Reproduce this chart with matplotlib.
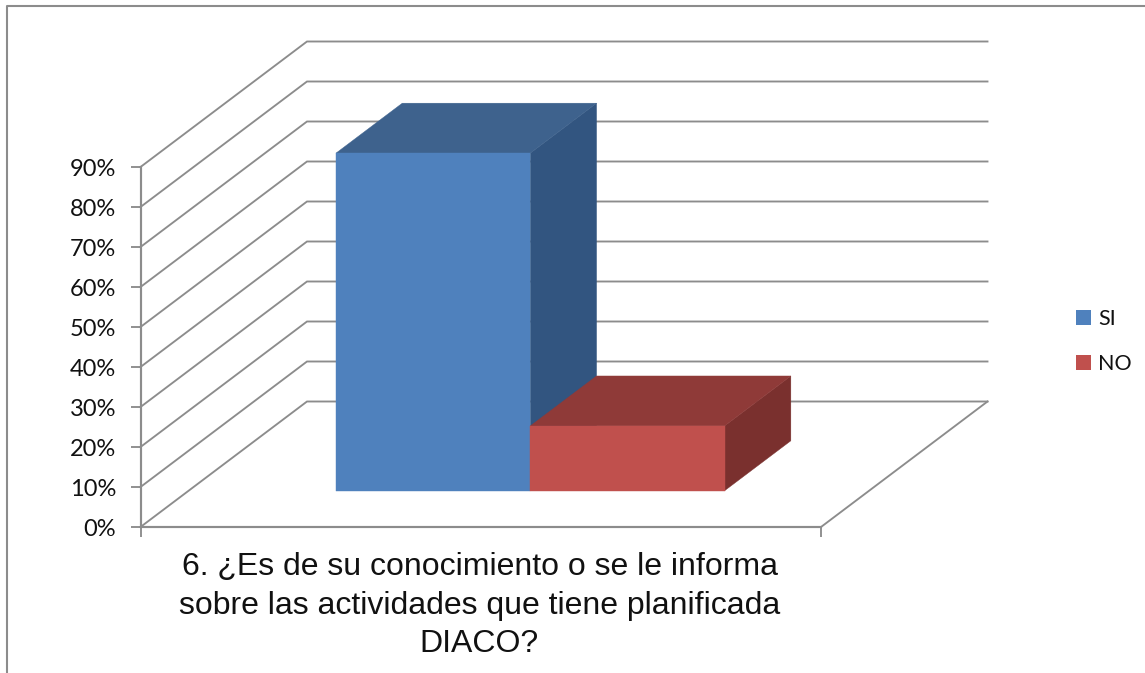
import matplotlib
matplotlib.use("Agg")
import matplotlib.pyplot as plt
from matplotlib.patches import Polygon, Patch
from matplotlib.lines import Line2D
from matplotlib.ticker import PercentFormatter

series = ["SI", "NO"]
values = [84.4, 16.2]
ticks = [0, 10, 20, 30, 40, 50, 60, 70, 80, 90]
title_lines = ["6. ¿Es de su conocimiento o se le informa",
               "sobre las actividades que tiene planificada",
               "DIACO?"]

W, H = 1145, 673
FRONT = "#4F81BD", "#C0504D"
TOP = "#3E628D", "#8F3A38"
SIDE = "#325580", "#7A302E"
GRID = "#8C8C8C"
LW = 1.35

fig = plt.figure(figsize=(W / 100, H / 100), dpi=100, facecolor="white")
x0, x1, y0, y90 = 140.5, 821, 527, 167
ax = fig.add_axes([x0 / W, 1 - y0 / H, (x1 - x0) / W, (y0 - y90) / H])
ax.set_xlim(0, 1)
ax.set_ylim(0, 90)
ax.patch.set_alpha(0)

# oblique depth: fraction of the floor depth -> offsets in axis units
DX = 166.5 / (x1 - x0)
DY = 125.5 / ((y0 - y90) / 90)


def proj(x, v, d):
    return (x + d * DX, v + d * DY)


# gridlines on side and back walls, floor edges
for t in ticks:
    a, b, c = proj(0, t, 0), proj(0, t, 1), proj(1, t, 1)
    ax.plot([a[0], b[0], c[0]], [a[1], b[1], c[1]], color=GRID, lw=LW,
            clip_on=False, zorder=1, solid_joinstyle="miter")
a, b = proj(1, 0, 0), proj(1, 0, 1)
ax.plot([a[0], b[0]], [a[1], b[1]], color=GRID, lw=LW, clip_on=False, zorder=1)

# 3-D bars
left, bar_w = 0.2166, 0.2855
d0, d1 = 0.289, 0.687
for i, v in enumerate(values):
    xa, xb = left + i * bar_w, left + (i + 1) * bar_w
    faces = [
        (SIDE[i], [proj(xb, 0, d0), proj(xb, 0, d1), proj(xb, v, d1), proj(xb, v, d0)]),
        (TOP[i], [proj(xa, v, d0), proj(xb, v, d0), proj(xb, v, d1), proj(xa, v, d1)]),
        (FRONT[i], [proj(xa, 0, d0), proj(xb, 0, d0), proj(xb, v, d0), proj(xa, v, d0)]),
    ]
    for color, pts in faces:
        ax.add_patch(Polygon(pts, closed=True, facecolor=color, edgecolor=color,
                             lw=0.3, clip_on=False, zorder=3 + i))

# real axes
for s in ("top", "right"):
    ax.spines[s].set_visible(False)
for s in ("left", "bottom"):
    ax.spines[s].set_color(GRID)
    ax.spines[s].set_linewidth(LW + 0.2)
ax.set_yticks(ticks)
ax.yaxis.set_major_formatter(PercentFormatter(100, decimals=0))
ax.set_xticks([0, 1])
ax.set_xticklabels([])
ax.tick_params(axis="y", length=7.5, width=LW, color=GRID, pad=10,
               labelsize=17, labelcolor="#111111")
ax.tick_params(axis="x", length=7.5, width=LW, color=GRID)
for lab in ax.get_yticklabels():
    lab.set_family(["Lato", "DejaVu Sans"])

# category label
for i, line in enumerate(title_lines):
    fig.text(479.5 / W, 1 - (567.5 + i * 38.5) / H, line, ha="center", va="center",
             family="Liberation Sans", fontsize=23, color="#111111")

# legend
handles = [Patch(facecolor=c, edgecolor=c, lw=0) for c in FRONT]
fig.legend(handles, series, loc="center left",
           bbox_to_anchor=(1076 / W, 1 - 341.5 / H), frameon=False,
           prop={"family": "Lato", "size": 15.5}, labelcolor="#111111",
           handlelength=0.7, handleheight=0.7, handletextpad=0.33,
           labelspacing=1.18, borderpad=0, borderaxespad=0)

# chart-area frame
fig.add_artist(Line2D([6.5 / W, 6.5 / W, 1], [0, 1 - 5.5 / H, 1 - 5.5 / H],
                      color="#8C8C8C", lw=1.5, transform=fig.transFigure))

fig.savefig("out.png", dpi=100, facecolor="white")
